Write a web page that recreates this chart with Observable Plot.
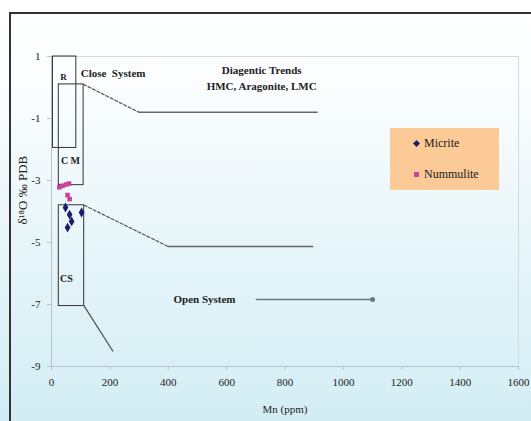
<!DOCTYPE html>
<html>
<head>
<meta charset="utf-8">
<script src="https://cdn.jsdelivr.net/npm/d3@7"></script>
<script src="https://cdn.jsdelivr.net/npm/@observablehq/plot@0.6"></script>
<style>
  html, body { margin: 0; padding: 0; background: #ffffff; }
  #wrap { position: relative; width: 531px; height: 421px; overflow: hidden; font-family: "Liberation Serif", serif; }
  #chart { position: absolute; left: 0; top: 0; }
  #frame { position: absolute; left: 9px; top: 12px; width: 540px; height: 430px; border: 2px solid #333; box-sizing: border-box; pointer-events: none; z-index: 5; }
  #legend { position: absolute; left: 390px; top: 128px; width: 109px; height: 62px; background: #fcca97; font-family: "Liberation Serif", serif; font-size: 12px; color: #1a1a1a; }
  #legend .row { position: absolute; left: 24px; display: flex; align-items: center; }
  #legend .sw { display: inline-block; margin-right: 5px; }
</style>
</head>
<body>
<div id="wrap">
  <div id="chart"></div>
  <div id="legend"></div>
  <div id="frame"></div>
</div>
<script>
// ---- data ----
const micriteMn = [48, 62, 103, 69, 55];
const micriteO  = [-3.87, -4.1, -4.03, -4.32, -4.52];
const nummMn = [27, 38, 50, 60, 55, 62];
const nummO  = [-3.22, -3.17, -3.13, -3.1, -3.47, -3.6];

const boxNames = ["R", "CM", "CS"];
const boxMn1 = [5, 25, 25];
const boxMn2 = [85, 110, 112];
const boxO1  = [-1.95, -3.15, -7.05];
const boxO2  = [1.0, 0.1, -3.8];

// trend lines: dashed then solid segments
const closeDashMn = [110, 300];
const closeDashO  = [0.1, -0.8];
const closeSolidMn = [300, 910];
const closeSolidO  = [-0.8, -0.8];
const openDashMn = [112, 400];
const openDashO  = [-3.8, -5.13];
const openSolidMn = [400, 895];
const openSolidO  = [-5.13, -5.13];
const csTailMn = [112, 210];
const csTailO  = [-7.05, -8.5];
const arrowMn = [702, 1100];
const arrowO  = [-6.84, -6.84];

const xTicks = [0, 200, 400, 600, 800, 1000, 1200, 1400, 1600];
const yTicks = [1, -1, -3, -5, -7, -9];

const midLabels = [
  {t: "R", x: 41, y: 0.35, s: 9},
  {t: "C M", x: 65, y: -2.35, s: 10},
  {t: "CS", x: 51, y: -6.16, s: 10},
  {t: "Diagentic Trends", x: 720, y: 0.55, s: 11},
  {t: "HMC, Aragonite, LMC", x: 720, y: 0.03, s: 11}
];
const startLabels = [
  {t: "Close  System", x: 100, y: 0.45, s: 11},
  {t: "Open System", x: 418, y: -6.84, s: 11}
];

const seriesNames = ["Micrite", "Nummulite"];
const seriesColors = ["#1c1c6b", "#c8449c"];

// ---- build ----
const micrite = micriteMn.map((m, i) => ({mn: m, o: micriteO[i]}));
const numm = nummMn.map((m, i) => ({mn: m, o: nummO[i]}));
const boxes = boxNames.map((n, i) => ({n, x1: boxMn1[i], x2: boxMn2[i], y1: boxO1[i], y2: boxO2[i]}));
const seg = (xs, ys) => xs.map((x, i) => ({x, y: ys[i]}));

const chart = Plot.plot({
  width: 531,
  height: 421,
  marginLeft: 51,
  marginRight: 13,
  marginTop: 56,
  marginBottom: 55,
  style: {
    background: "linear-gradient(to bottom, #ffffff 0%, #fbfdfe 20%, #e6f5f9 60%, #d3edf4 100%)",
    fontFamily: "Liberation Serif, serif",
    fontSize: "11px",
    color: "#222"
  },
  x: {domain: [0, 1600]},
  y: {domain: [-9, 1]},
  marks: [
    Plot.frame({stroke: "#d2dadd"}),
    Plot.ruleX([0], {stroke: "#b9c4c8"}),
    Plot.ruleY([-9], {stroke: "#b9c4c8"}),
    Plot.axisX({ticks: xTicks, tickFormat: d => String(d), tickSize: 4, tickPadding: 8, stroke: "#b9c4c8", fill: "#222", fontSize: 11,
      label: "Mn (ppm)", labelAnchor: "center", labelArrow: "none", labelOffset: 46}),
    Plot.axisY({ticks: yTicks, tickFormat: d => String(d), tickSize: 4, tickPadding: 7, stroke: "#b9c4c8", fill: "#222", fontSize: 11, label: null}),
    Plot.text(["δ¹⁸O ‰ PDB"], {frameAnchor: "left", y: () => -4.42, dx: -29, rotate: -90, fontSize: 13, fill: "#222", text: d => d}),
    Plot.rect(boxes, {x1: "x1", x2: "x2", y1: "y1", y2: "y2", fill: "none", stroke: "#333", strokeWidth: 1}),
    Plot.line(seg(closeDashMn, closeDashO), {x: "x", y: "y", stroke: "#555", strokeDasharray: "3,2", strokeWidth: 1.2}),
    Plot.line(seg(closeSolidMn, closeSolidO), {x: "x", y: "y", stroke: "#666", strokeWidth: 1.5}),
    Plot.line(seg(openDashMn, openDashO), {x: "x", y: "y", stroke: "#555", strokeDasharray: "3,2", strokeWidth: 1.2}),
    Plot.line(seg(openSolidMn, openSolidO), {x: "x", y: "y", stroke: "#666", strokeWidth: 1.5}),
    Plot.line(seg(csTailMn, csTailO), {x: "x", y: "y", stroke: "#555", strokeWidth: 1.3}),
    Plot.line(seg(arrowMn, arrowO), {x: "x", y: "y", stroke: "#6a7a80", strokeWidth: 1.5, markerEnd: "dot"}),
    Plot.dot(numm, {x: "mn", y: "o", symbol: "square", r: 2.6, fill: seriesColors[1]}),
    Plot.dot(micrite, {x: "mn", y: "o", symbol: "diamond", r: 3, fill: seriesColors[0]}),
    Plot.text(midLabels, {x: "x", y: "y", text: "t", fontSize: "s", textAnchor: "middle", fontWeight: "bold", fill: "#222"}),
    Plot.text(startLabels, {x: "x", y: "y", text: "t", fontSize: "s", textAnchor: "start", fontWeight: "bold", fill: "#222"})
  ]
});
document.getElementById("chart").appendChild(chart);

// legend
const lg = document.getElementById("legend");
seriesNames.forEach((n, i) => {
  const row = document.createElement("div");
  row.className = "row";
  row.style.top = (i === 0 ? 8 : 39) + "px";
  const sw = document.createElement("span");
  sw.className = "sw";
  sw.style.width = "5px"; sw.style.height = "5px"; sw.style.background = seriesColors[i];
  if (i === 0) sw.style.transform = "rotate(45deg)";
  const tx = document.createElement("span");
  tx.textContent = n;
  row.appendChild(sw); row.appendChild(tx);
  lg.appendChild(row);
});
</script>
</body>
</html>
